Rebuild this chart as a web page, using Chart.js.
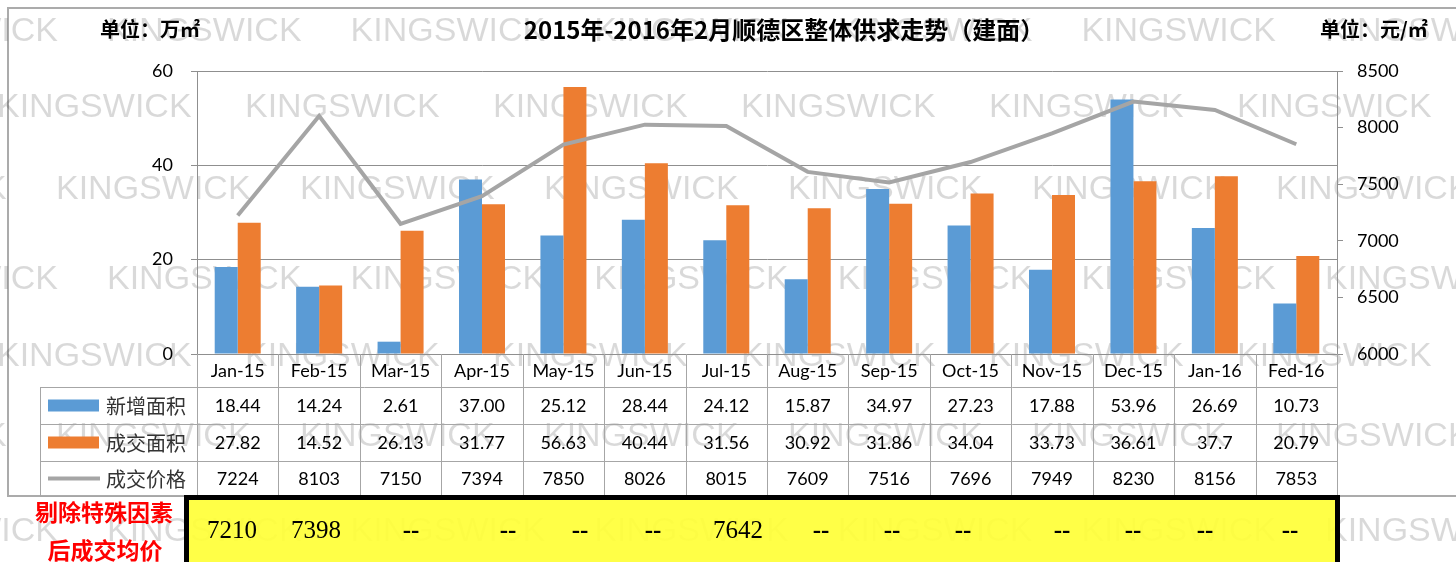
<!DOCTYPE html>
<html>
<head>
<meta charset="utf-8">
<script src="https://cdn.jsdelivr.net/npm/chart.js@4.4.0/dist/chart.umd.min.js"></script>
<style>
  html, body { margin: 0; padding: 0; background: #fff; }
  #wrap { width: 1456px; height: 562px; }
</style>
</head>
<body>
<div id="wrap"><canvas id="grafik" width="1456" height="562"></canvas></div>
<script>
// Data dari gambar (bulan, luas baru, luas transaksi, harga)
var bulan = ['Jan-15', 'Feb-15', 'Mar-15', 'Apr-15', 'May-15', 'Jun-15', 'Jul-15',
             'Aug-15', 'Sep-15', 'Oct-15', 'Nov-15', 'Dec-15', 'Jan-16', 'Fed-16'];
var xinzeng = [18.44, 14.24, 2.61, 37.00, 25.12, 28.44, 24.12, 15.87, 34.97, 27.23, 17.88, 53.96, 26.69, 10.73];
var chengjiao = [27.82, 14.52, 26.13, 31.77, 56.63, 40.44, 31.56, 30.92, 31.86, 34.04, 33.73, 36.61, 37.7, 20.79];
var jiage = [7224, 8103, 7150, 7394, 7850, 8026, 8015, 7609, 7516, 7696, 7949, 8230, 8156, 7853];
// harga rata-rata setelah faktor khusus dihapus (null = "--")
var junjia = [7210, 7398, null, null, null, null, 7642, null, null, null, null, null, null, null];

var namaSeri = ['新增面积', '成交面积', '成交价格'];
var tickKiri = [0, 20, 40, 60];
var tickKanan = [6000, 6500, 7000, 7500, 8000, 8500];

var JUDUL = '2015年-2016年2月顺德区整体供求走势（建面）';
var SATUAN_KIRI = '单位：万㎡';
var SATUAN_KANAN = '单位：元/㎡';
var CATATAN = ['剔除特殊因素', '后成交均价'];

var BIRU = '#5B9BD5', ORANYE = '#ED7D31', ABU = '#A5A5A5';
var GARIS = '#8f8f8f';
var FONT_LATIN = 'Lato, "Noto Sans", sans-serif';
var FONT_CJK = '"Noto Sans CJK SC", sans-serif';
var FONT_SERIF = '"Liberation Serif", "Times New Roman", serif';

// posisi baris tabel
var BARIS = [354, 387, 424, 461, 496];
// posisi teks di kotak kuning (tidak sejajar persis dengan kolom)
var POS_KUNING = [232, 316, 411, 508, 580, 653, 738, 821, 892, 963, 1062, 1133, 1205, 1290];

// watermark: [y, x awal, jarak]
var WM = [[32, 107, 243.6], [108, -3, 248], [190, 56, 244], [280, 107, 243.6],
          [357, -3, 248], [437, 56, 244], [532, 107, 243.6]];

var latarPlugin = {
    id: 'latar',
    beforeDraw: function(chart) {
        var ctx = chart.ctx;
        ctx.save();
        ctx.fillStyle = '#fff';
        ctx.fillRect(0, 0, chart.width, chart.height);
        // bingkai luar
        ctx.strokeStyle = '#ababab';
        ctx.lineWidth = 2;
        ctx.strokeRect(8, 8, 1500, 488);
        // watermark
        ctx.font = '34px "Liberation Sans", Arial, sans-serif';
        ctx.fillStyle = 'rgba(0,0,0,0.15)';
        ctx.textBaseline = 'middle';
        ctx.textAlign = 'left';
        WM.forEach(function(w) {
            for (var x = w[1] - w[2]; x < chart.width; x += w[2]) {
                ctx.fillText('KINGSWICK', x, w[0]);
            }
        });
        // kotak kuning (hampir pekat, watermark samar di bawahnya)
        ctx.fillStyle = 'rgba(255,255,55,0.92)';
        ctx.fillRect(186, 497, 1152, 80);
        ctx.restore();
    }
};

var tabelPlugin = {
    id: 'tabel',
    afterDraw: function(chart) {
        var ctx = chart.ctx;
        var xs = chart.scales.x;
        var kiri = chart.chartArea.left, kanan = chart.chartArea.right;
        var lebar = (kanan - kiri) / bulan.length;
        ctx.save();

        // garis tabel
        ctx.strokeStyle = '#a6a6a6';
        ctx.lineWidth = 1;
        ctx.beginPath();
        for (var i = 0; i <= bulan.length; i++) {
            var gx = Math.round(kiri + i * lebar) + 0.5;
            ctx.moveTo(gx, BARIS[0]);
            ctx.lineTo(gx, BARIS[4]);
        }
        for (var r = 1; r < BARIS.length; r++) {
            ctx.moveTo(40, BARIS[r] + 0.5);
            ctx.lineTo(kanan, BARIS[r] + 0.5);
        }
        ctx.moveTo(40.5, BARIS[1]);
        ctx.lineTo(40.5, BARIS[4]);
        ctx.stroke();

        // isi tabel
        ctx.fillStyle = '#000';
        ctx.textAlign = 'center';
        ctx.textBaseline = 'middle';
        ctx.font = '18px ' + FONT_LATIN;
        var isi = [
            bulan,
            xinzeng.map(function(v) { return v.toFixed(2); }),
            chengjiao.map(function(v) { return String(v); }),
            jiage.map(function(v) { return String(v); })
        ];
        isi.forEach(function(baris, r) {
            var cy = (BARIS[r] + BARIS[r + 1]) / 2 + 1;
            baris.forEach(function(t, i) {
                ctx.fillText(t, xs.getPixelForValue(i), cy);
            });
        });

        // legenda di kolom kiri
        var warna = [BIRU, ORANYE];
        for (var k = 0; k < 3; k++) {
            var ly = (BARIS[k + 1] + BARIS[k + 2]) / 2;
            if (k < 2) {
                ctx.fillStyle = warna[k];
                ctx.fillRect(48, ly - 6, 51, 12);
            } else {
                ctx.strokeStyle = ABU;
                ctx.lineWidth = 4;
                ctx.beginPath();
                ctx.moveTo(48, ly);
                ctx.lineTo(100, ly);
                ctx.stroke();
            }
            ctx.fillStyle = '#333';
            ctx.textAlign = 'left';
            ctx.font = '20px ' + FONT_CJK;
            ctx.fillText(namaSeri[k], 106, ly + 1);
        }

        // judul dan satuan
        ctx.fillStyle = '#000';
        ctx.textAlign = 'center';
        ctx.font = 'bold 24px ' + FONT_CJK;
        ctx.fillText(JUDUL, 784, 30);
        ctx.textAlign = 'left';
        ctx.font = 'bold 20px ' + FONT_CJK;
        ctx.fillText(SATUAN_KIRI, 100, 29);
        ctx.fillText(SATUAN_KANAN, 1320, 29);

        // kotak kuning: bingkai + nilai
        ctx.strokeStyle = '#000';
        ctx.lineWidth = 5;
        ctx.strokeRect(186.5, 497.5, 1151, 80);
        ctx.fillStyle = '#000';
        ctx.textAlign = 'center';
        junjia.forEach(function(v, i) {
            if (v == null) {
                ctx.font = 'bold 25px ' + FONT_SERIF;
                ctx.fillText('--', POS_KUNING[i], 532);
            } else {
                ctx.font = '25px ' + FONT_SERIF;
                ctx.fillText(String(v), POS_KUNING[i], 531);
            }
        });

        // catatan merah
        ctx.fillStyle = '#FF0000';
        ctx.font = 'bold 23px ' + FONT_CJK;
        ctx.fillText(CATATAN[0], 104, 512);
        ctx.fillText(CATATAN[1], 105, 550);

        ctx.restore();
    }
};

new Chart(document.getElementById('grafik'), {
    type: 'bar',
    data: {
        labels: bulan,
        datasets: [
            {
                type: 'line',
                label: namaSeri[2],
                data: jiage,
                yAxisID: 'y1',
                borderColor: ABU,
                borderWidth: 4,
                pointRadius: 0,
                tension: 0,
                order: 0
            },
            {
                label: namaSeri[0],
                data: xinzeng,
                yAxisID: 'y',
                backgroundColor: BIRU,
                categoryPercentage: 0.565,
                barPercentage: 1.0,
                order: 1
            },
            {
                label: namaSeri[1],
                data: chengjiao,
                yAxisID: 'y',
                backgroundColor: ORANYE,
                categoryPercentage: 0.565,
                barPercentage: 1.0,
                order: 1
            }
        ]
    },
    options: {
        responsive: false,
        devicePixelRatio: 1,
        animation: false,
        layout: { padding: { top: 71, bottom: 208, left: 0, right: 0 } },
        plugins: {
            legend: { display: false },
            title: { display: false },
            tooltip: { enabled: false }
        },
        scales: {
            x: { display: false },
            y: {
                position: 'left',
                min: 0,
                max: 60,
                afterBuildTicks: function(s) { s.ticks = tickKiri.map(function(v) { return { value: v }; }); },
                afterFit: function(s) { s.width = 197; },
                ticks: { color: '#000', font: { family: FONT_LATIN, size: 18 }, padding: 18 },
                grid: { color: GARIS, tickLength: 6 },
                border: { display: true, color: GARIS }
            },
            y1: {
                position: 'right',
                min: 6000,
                max: 8500,
                afterBuildTicks: function(s) { s.ticks = tickKanan.map(function(v) { return { value: v }; }); },
                afterFit: function(s) { s.width = 119; },
                ticks: {
                    color: '#000',
                    font: { family: FONT_LATIN, size: 18 },
                    padding: 14,
                    callback: function(v) { return String(v); }
                },
                grid: { color: GARIS, tickLength: 6, drawOnChartArea: false },
                border: { display: true, color: GARIS }
            }
        }
    },
    plugins: [latarPlugin, tabelPlugin]
});
</script>
</body>
</html>
